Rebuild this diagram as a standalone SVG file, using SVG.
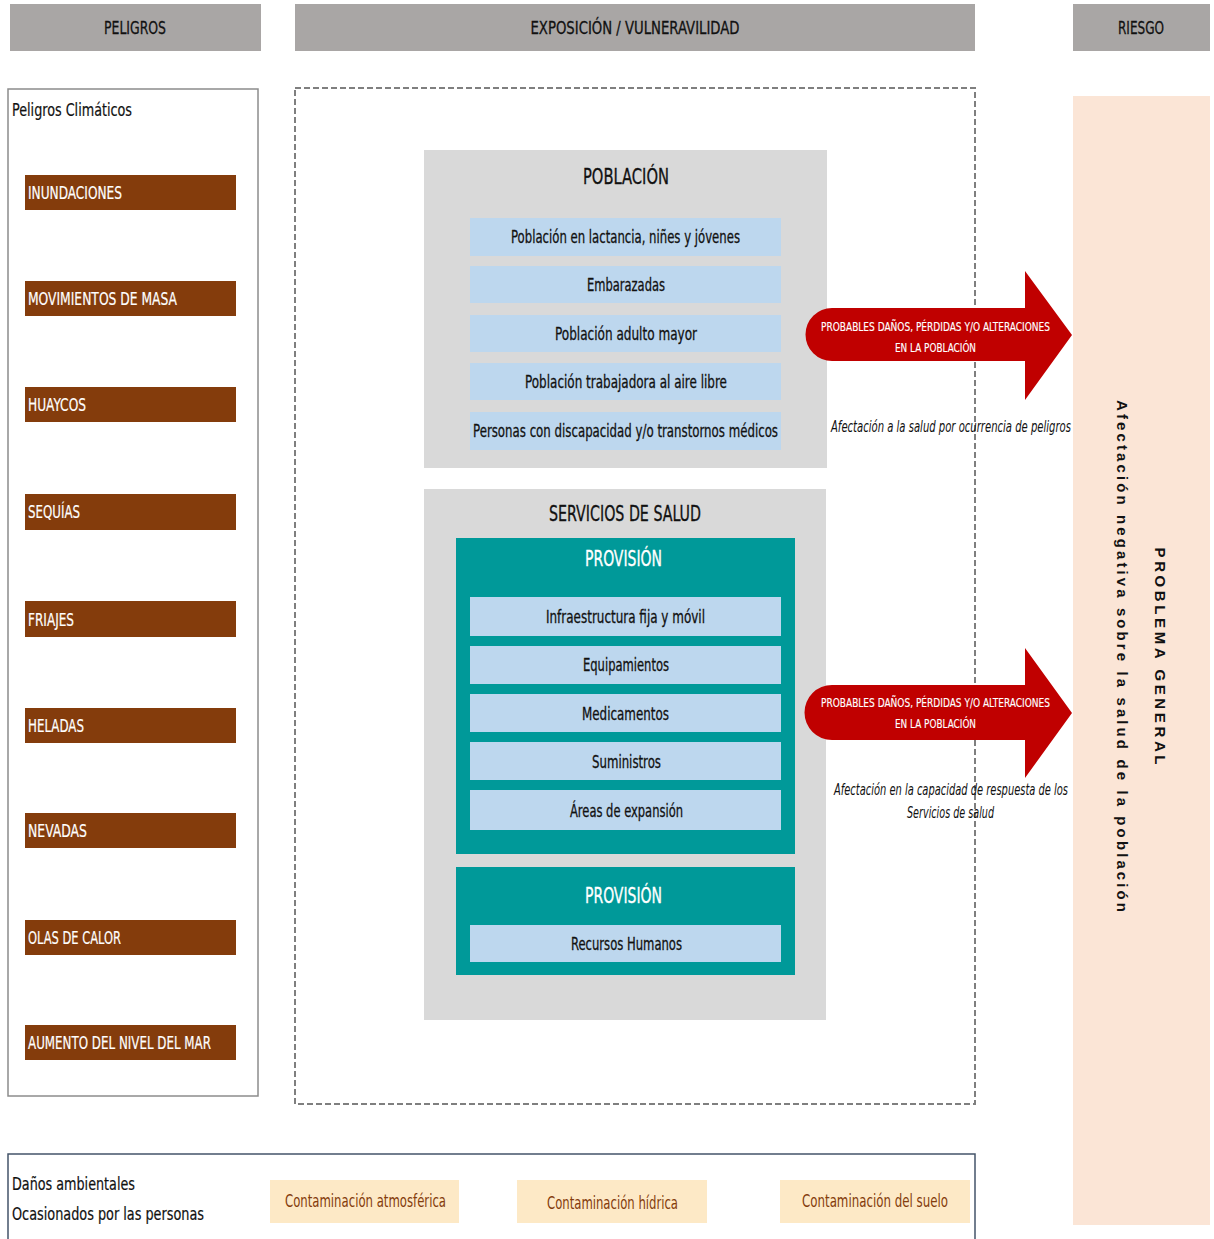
<svg xmlns="http://www.w3.org/2000/svg" width="1214" height="1239" viewBox="0 0 1214 1239">
<style>
text{font-family:"Liberation Sans Narrow","DejaVu Sans Condensed","Liberation Sans",sans-serif;}
.hdr{fill:#a9a6a5;}
.ht{font-size:18px;fill:#111;text-anchor:middle;stroke:#111;stroke-width:0.3;}
.brown{fill:#843c0c;}
.bt{font-size:18px;fill:#fff;stroke:#fff;stroke-width:0.2;}
.gray{fill:#d9d9d9;}
.blue{fill:#bdd7ee;}
.rt{font-size:18px;fill:#111;text-anchor:middle;stroke:#111;stroke-width:0.3;}
.teal{fill:#009999;}
.pv{font-size:21px;fill:#fff;text-anchor:middle;stroke:#fff;stroke-width:0.3;}
.title{font-size:21px;fill:#111;text-anchor:middle;stroke:#111;stroke-width:0.3;}
.arrow{fill:#c00000;}
.at{font-size:12px;fill:#fff;text-anchor:middle;stroke:#fff;stroke-width:0.15;}
.it{font-size:16px;fill:#111;font-style:italic;text-anchor:middle;}
.cont{fill:#fde9c6;}
.ct{font-size:18px;fill:#843c0c;text-anchor:middle;}
.vt{font-family:"Liberation Sans",Arial,sans-serif;font-weight:bold;font-size:15px;fill:#111;text-anchor:middle;}
.lt{font-size:18px;fill:#111;stroke:#111;stroke-width:0.2;}
</style>
<rect width="1214" height="1239" fill="#fff"/>
<g id="hdr-peligros"><rect class="hdr" x="10" y="4" width="251" height="47"/><text class="ht" x="135" y="34" textLength="62" lengthAdjust="spacingAndGlyphs">PELIGROS</text></g>
<g id="hdr-exposicion"><rect class="hdr" x="295" y="4" width="680" height="47"/><text class="ht" x="635" y="34" textLength="209" lengthAdjust="spacingAndGlyphs">EXPOSICIÓN / VULNERAVILIDAD</text></g>
<g id="hdr-riesgo"><rect class="hdr" x="1073" y="4" width="137" height="47"/><text class="ht" x="1141" y="34" textLength="46" lengthAdjust="spacingAndGlyphs">RIESGO</text></g>

<g id="peligros-climaticos">
<rect x="8" y="89" width="250" height="1007" fill="#fff" stroke="#8c8c8c" stroke-width="1.5"/>
<text class="lt" x="12" y="116" textLength="120" lengthAdjust="spacingAndGlyphs">Peligros Climáticos</text>
</g>
<g id="p1"><rect class="brown" x="25" y="175" width="211" height="35"/><text class="bt" x="28" y="199" textLength="94" lengthAdjust="spacingAndGlyphs">INUNDACIONES</text></g>
<g id="p2"><rect class="brown" x="25" y="281" width="211" height="35"/><text class="bt" x="28" y="305" textLength="149" lengthAdjust="spacingAndGlyphs">MOVIMIENTOS DE MASA</text></g>
<g id="p3"><rect class="brown" x="25" y="387" width="211" height="35"/><text class="bt" x="28" y="411" textLength="58" lengthAdjust="spacingAndGlyphs">HUAYCOS</text></g>
<g id="p4"><rect class="brown" x="25" y="494" width="211" height="36"/><text class="bt" x="28" y="518" textLength="52" lengthAdjust="spacingAndGlyphs">SEQUÍAS</text></g>
<g id="p5"><rect class="brown" x="25" y="601" width="211" height="36"/><text class="bt" x="28" y="626" textLength="46" lengthAdjust="spacingAndGlyphs">FRIAJES</text></g>
<g id="p6"><rect class="brown" x="25" y="708" width="211" height="35"/><text class="bt" x="28" y="732" textLength="56" lengthAdjust="spacingAndGlyphs">HELADAS</text></g>
<g id="p7"><rect class="brown" x="25" y="813" width="211" height="35"/><text class="bt" x="28" y="837" textLength="59" lengthAdjust="spacingAndGlyphs">NEVADAS</text></g>
<g id="p8"><rect class="brown" x="25" y="920" width="211" height="35"/><text class="bt" x="28" y="944" textLength="93" lengthAdjust="spacingAndGlyphs">OLAS DE CALOR</text></g>
<g id="p9"><rect class="brown" x="25" y="1025" width="211" height="35"/><text class="bt" x="28" y="1049" textLength="183" lengthAdjust="spacingAndGlyphs">AUMENTO DEL NIVEL DEL MAR</text></g>

<g id="exposicion-frame"><rect x="295" y="88" width="680" height="1016" fill="none" stroke="#7f7f7f" stroke-width="2" stroke-dasharray="6 3"/></g>

<g id="poblacion">
<rect class="gray" x="424" y="150" width="403" height="318"/>
<text class="title" x="626" y="184" textLength="86" lengthAdjust="spacingAndGlyphs">POBLACIÓN</text>
<rect class="blue" x="470" y="218" width="311" height="38"/><text class="rt" x="625.5" y="243" textLength="229" lengthAdjust="spacingAndGlyphs">Población en lactancia, niñes y jóvenes</text>
<rect class="blue" x="470" y="266" width="311" height="37"/><text class="rt" x="626" y="291" textLength="78" lengthAdjust="spacingAndGlyphs">Embarazadas</text>
<rect class="blue" x="470" y="315" width="311" height="37"/><text class="rt" x="626" y="340" textLength="142" lengthAdjust="spacingAndGlyphs">Población adulto mayor</text>
<rect class="blue" x="470" y="363" width="311" height="37"/><text class="rt" x="626" y="388" textLength="202" lengthAdjust="spacingAndGlyphs">Población trabajadora al aire libre</text>
<rect class="blue" x="470" y="412" width="311" height="38"/><text class="rt" x="625.5" y="437" textLength="305" lengthAdjust="spacingAndGlyphs">Personas con discapacidad y/o transtornos médicos</text>
</g>

<g id="servicios">
<rect class="gray" x="424" y="489" width="402" height="531"/>
<text class="title" x="625" y="521" textLength="152" lengthAdjust="spacingAndGlyphs">SERVICIOS DE SALUD</text>
<rect class="teal" x="456" y="538" width="339" height="316"/>
<text class="pv" x="623.5" y="566" textLength="77" lengthAdjust="spacingAndGlyphs">PROVISIÓN</text>
<rect class="blue" x="470" y="597" width="311" height="39"/><text class="rt" x="625.5" y="623" textLength="159" lengthAdjust="spacingAndGlyphs">Infraestructura fija y móvil</text>
<rect class="blue" x="470" y="646" width="311" height="38"/><text class="rt" x="626" y="671" textLength="86" lengthAdjust="spacingAndGlyphs">Equipamientos</text>
<rect class="blue" x="470" y="694" width="311" height="38"/><text class="rt" x="625.5" y="720" textLength="87" lengthAdjust="spacingAndGlyphs">Medicamentos</text>
<rect class="blue" x="470" y="742" width="311" height="38"/><text class="rt" x="626.5" y="768" textLength="69" lengthAdjust="spacingAndGlyphs">Suministros</text>
<rect class="blue" x="470" y="790" width="311" height="40"/><text class="rt" x="626.5" y="817" textLength="113" lengthAdjust="spacingAndGlyphs">Áreas de expansión</text>
<rect class="teal" x="456" y="867" width="339" height="108"/>
<text class="pv" x="623.5" y="903" textLength="77" lengthAdjust="spacingAndGlyphs">PROVISIÓN</text>
<rect class="blue" x="470" y="925" width="311" height="37"/><text class="rt" x="626.5" y="950" textLength="111" lengthAdjust="spacingAndGlyphs">Recursos Humanos</text>
</g>

<g id="riesgo">
<rect x="1073" y="96" width="137" height="1129" fill="#fbe5d6"/>
<text class="vt" transform="translate(1155 656) rotate(90)" textLength="217" lengthAdjust="spacing">PROBLEMA GENERAL</text>
<text class="vt" transform="translate(1117 656) rotate(90)" textLength="512" lengthAdjust="spacing">Afectación negativa sobre la salud de la población</text>
</g>

<g id="connectors">
<g id="arrow1">
<path class="arrow" d="M832 308 L1025 308 L1025 271 L1072 335 L1025 400 L1025 361 L832 361 A26.5 26.5 0 0 1 832 308 Z"/>
<text class="at" x="935.5" y="331" textLength="229" lengthAdjust="spacingAndGlyphs">PROBABLES DAÑOS, PÉRDIDAS Y/O ALTERACIONES</text>
<text class="at" x="935.5" y="352" textLength="81" lengthAdjust="spacingAndGlyphs">EN LA POBLACIÓN</text>
</g>
<g id="arrow2">
<path class="arrow" d="M832 685 L1025 685 L1025 648 L1072 713 L1025 778 L1025 740 L832 740 A27.5 27.5 0 0 1 832 685 Z"/>
<text class="at" x="935.5" y="707" textLength="229" lengthAdjust="spacingAndGlyphs">PROBABLES DAÑOS, PÉRDIDAS Y/O ALTERACIONES</text>
<text class="at" x="935.5" y="728" textLength="81" lengthAdjust="spacingAndGlyphs">EN LA POBLACIÓN</text>
</g>
</g>
<g id="label1"><text class="it" x="951" y="432" textLength="240" lengthAdjust="spacingAndGlyphs">Afectación a la salud por ocurrencia de peligros</text></g>
<g id="label2"><text class="it" x="951" y="795" textLength="234" lengthAdjust="spacingAndGlyphs">Afectación en la capacidad de respuesta de los</text><text class="it" x="950.5" y="818" textLength="87" lengthAdjust="spacingAndGlyphs">Servicios de salud</text></g>

<g id="danos-ambientales">
<path d="M8 1242 L8 1154 L975 1154 L975 1242" fill="#fff" stroke="#44546a" stroke-width="1.5"/>
<text class="lt" x="12" y="1190" textLength="123" lengthAdjust="spacingAndGlyphs">Daños ambientales</text>
<text class="lt" x="12" y="1220" textLength="192" lengthAdjust="spacingAndGlyphs">Ocasionados por las personas</text>
</g>
<g id="c1"><rect class="cont" x="270" y="1180" width="189" height="43"/><text class="ct" x="365.5" y="1207" textLength="161" lengthAdjust="spacingAndGlyphs">Contaminación atmosférica</text></g>
<g id="c2"><rect class="cont" x="517" y="1180" width="190" height="43"/><text class="ct" x="612.5" y="1209" textLength="131" lengthAdjust="spacingAndGlyphs">Contaminación hídrica</text></g>
<g id="c3"><rect class="cont" x="780" y="1180" width="190" height="43"/><text class="ct" x="875" y="1207" textLength="146" lengthAdjust="spacingAndGlyphs">Contaminación del suelo</text></g>
</svg>
